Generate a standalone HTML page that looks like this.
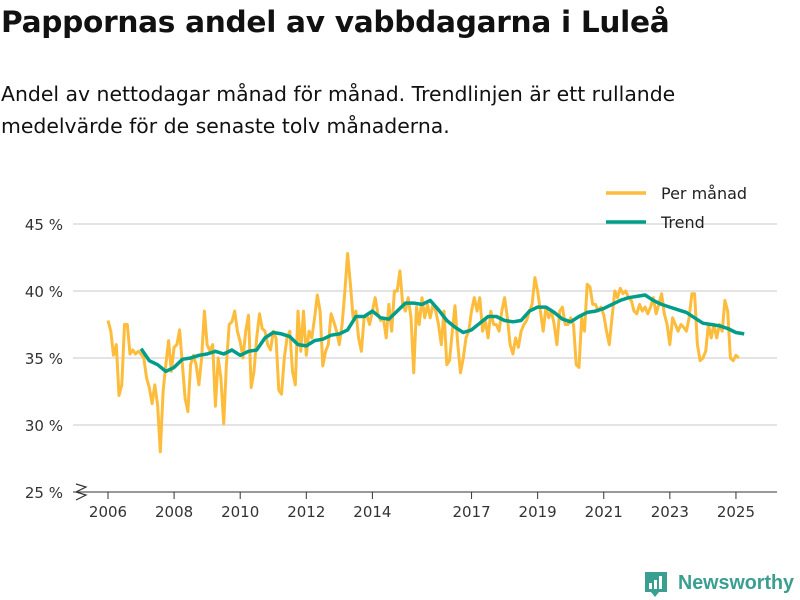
<!DOCTYPE html>
<html><head><meta charset="utf-8"><style>
body{margin:0;width:800px;height:600px;background:#fff;font-family:"DejaVu Sans","Liberation Sans",sans-serif;overflow:hidden;position:relative}
#title{position:absolute;left:1px;top:5px;font-size:29.6px;font-weight:bold;color:#111;letter-spacing:-0.3px;white-space:nowrap}
#sub{position:absolute;left:1px;top:78px;font-size:20.4px;line-height:32px;color:#111;width:795px;white-space:nowrap}
svg{position:absolute;left:0;top:0}
</style></head><body>
<div id="title">Pappornas andel av vabbdagarna i Luleå</div>
<div id="sub">Andel av nettodagar månad för månad. Trendlinjen är ett rullande<br>medelvärde för de senaste tolv månaderna.</div>
<svg id="chart" width="800" height="600"></svg>
<script>
const yTicks=[25,30,35,40,45];
const yTickLabels=["25 %","30 %","35 %","40 %","45 %"];
const xTicks=[2006,2008,2010,2012,2014,2017,2019,2021,2023,2025];
const startYear=2006;
const monthly=[
37.8,37.0,35.2,36.0,32.2,33.0,37.5,37.5,35.3,35.6,35.3,35.5,
35.3,35.0,33.5,32.8,31.6,33.0,31.5,28.0,32.5,34.5,36.3,34.0,
35.8,36.0,37.1,34.5,32.0,31.0,34.5,35.2,34.5,33.0,35.0,38.5,
36.0,35.5,36.0,31.4,35.0,33.5,30.1,34.5,37.5,37.7,38.5,37.0,
36.2,35.0,37.0,38.2,32.8,34.0,36.5,38.3,37.2,37.0,36.0,35.6,
37.0,36.5,32.6,32.3,35.0,36.5,37.0,34.0,33.0,38.5,35.5,38.5,
35.2,37.0,36.5,38.0,39.7,38.5,34.4,35.5,36.0,38.3,37.7,37.0,
36.0,37.5,40.0,42.8,40.5,38.0,38.5,36.5,35.5,38.0,38.2,37.5,
38.5,39.5,38.3,37.8,38.0,36.5,39.0,37.0,40.0,40.0,41.5,39.0,
38.5,39.5,38.0,33.9,38.8,37.5,39.5,38.0,39.0,38.0,39.0,38.5,
37.5,36.0,38.5,34.5,34.8,37.0,38.9,36.0,33.9,35.0,36.5,37.0,
38.5,39.5,38.5,39.5,37.0,37.8,36.5,38.5,37.5,37.5,37.0,38.5,
39.5,38.0,36.0,35.3,36.5,35.8,37.0,37.5,37.8,38.5,39.0,41.0,
40.0,38.5,37.0,38.8,38.0,38.5,37.5,36.0,38.5,38.8,37.5,37.5,
38.0,37.5,34.5,34.3,38.0,37.0,40.5,40.3,39.0,39.0,38.5,38.8,
38.2,37.0,36.0,38.0,40.0,39.5,40.2,39.8,40.0,39.5,39.3,38.5,
38.3,39.0,38.5,38.8,38.3,38.8,39.5,38.3,39.0,39.8,38.3,37.5,
36.0,38.0,37.5,37.0,37.5,37.3,37.0,38.0,39.8,39.8,36.0,34.8,
35.0,35.5,37.5,36.5,37.5,36.5,37.5,37.0,39.3,38.5,35.0,34.8,
35.2,35.0];
const trendStart=2007;
const trendQuarterly=[
35.7,34.8,34.5,34.0, 34.3,34.9,35.0,35.2, 35.3,35.5,35.3,35.6, 35.2,35.5,35.6,36.5,
36.9,36.8,36.6,36.0, 35.9,36.3,36.4,36.7, 36.8,37.1,38.1,38.1, 38.5,38.0,37.9,38.5,
39.1,39.1,39.0,39.3, 38.6,37.8,37.3,36.9, 37.1,37.6,38.1,38.1, 37.8,37.7,37.8,38.5,
38.8,38.8,38.4,37.9, 37.7,38.1,38.4,38.5, 38.7,39.0,39.3,39.5, 39.6,39.7,39.3,39.0,
38.8,38.6,38.4,38.0, 37.6,37.5,37.4,37.2, 36.9,36.8];

const NS="http://www.w3.org/2000/svg";
const svg=document.getElementById('chart');
const xS=t=>108+(t-2006)*33.05;
const yS=v=>492-(v-25)*13.4;
function mk(tag,attrs,parent){const e=document.createElementNS(NS,tag);for(const k in attrs)e.setAttribute(k,attrs[k]);(parent||svg).appendChild(e);return e;}

yTicks.forEach((v,i)=>{
  if(i>0){const g=mk('line',{x1:73,x2:777,y1:yS(v),y2:yS(v),stroke:'#dcdcdc','stroke-width':1.5});
  
  }
  const t=mk('text',{x:63,y:yS(v)+6,'text-anchor':'end','font-size':15,fill:'#333'});
  t.textContent=yTickLabels[i];
  
  
});
const ax=mk('line',{x1:73,x2:777,y1:492,y2:492,stroke:'#333','stroke-width':1});


const br=mk('path',{d:'M76 484 L86 487 L76 492 L86 495 L76 500',fill:'none',stroke:'#333','stroke-width':1.2});


xTicks.forEach(y=>{
  const tk=mk('line',{x1:xS(y),x2:xS(y),y1:492,y2:499,stroke:'#333','stroke-width':1});
  
  
  const t=mk('text',{x:xS(y),y:517,'text-anchor':'middle','font-size':15,fill:'#333'});
  t.textContent=y;
  
  
});
const mPts=monthly.map((v,i)=>xS(startYear+i/12).toFixed(1)+','+yS(v).toFixed(1)).join(' ');
const pm=mk('polyline',{points:mPts,fill:'none',stroke:'#fdbc3c','stroke-width':3,'stroke-linejoin':'round'});


const tPts=trendQuarterly.map((v,i)=>xS(trendStart+i/4).toFixed(1)+','+yS(v).toFixed(1)).join(' ');
const tr=mk('polyline',{points:tPts,fill:'none',stroke:'#009e8a','stroke-width':3.5,'stroke-linejoin':'round'});



[['Per månad','#fdbc3c',193],['Trend','#009e8a',222]].forEach(([n,c,y])=>{
  const l=mk('line',{x1:606,x2:646,y1:y,y2:y,stroke:c,'stroke-width':3.5});
  
  
  const t=mk('text',{x:661,y:y+6,'font-size':16,fill:'#222'});
  t.textContent=n;
  
  
});
const logo=mk('g',{});


mk('path',{d:'M645 572 h22 v20 h-8 l-4 5 l-4 -5 h-6 z',fill:'#3a9e90'},logo);
mk('rect',{x:649,y:583,width:3,height:6,fill:'#fff'},logo);
mk('rect',{x:654,y:580,width:3,height:9,fill:'#fff'},logo);
mk('rect',{x:659,y:576,width:3,height:13,fill:'#fff'},logo);
const lt=mk('text',{x:678,y:589,'font-size':20,'font-weight':'bold',fill:'#3a9e90','font-family':'Liberation Sans, sans-serif',textLength:116,lengthAdjust:'spacingAndGlyphs'},logo);
lt.textContent='Newsworthy';
</script>
</body></html>
